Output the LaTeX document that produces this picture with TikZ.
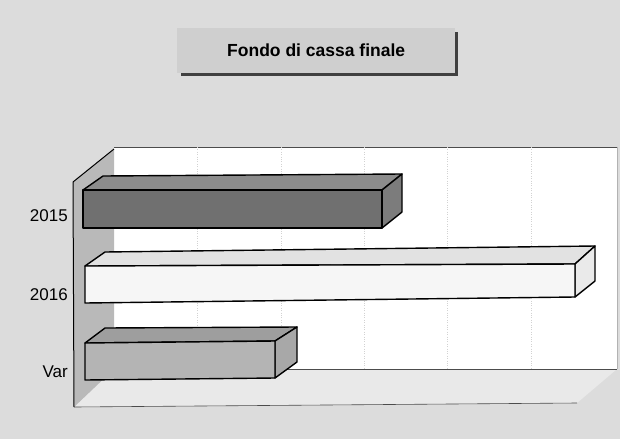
\documentclass[tikz,border=0pt]{standalone}
\usepackage{fontspec}
\setmainfont{Liberation Sans}
\definecolor{bgc}{HTML}{DCDCDC}
\definecolor{wallc}{HTML}{B9B9B9}
\definecolor{floorc}{HTML}{E9E9E9}
\definecolor{darkfront}{HTML}{707070}
\definecolor{darktop}{HTML}{8C8C8C}
\definecolor{darkside}{HTML}{7C7C7C}
\definecolor{whitefront}{HTML}{F6F6F6}
\definecolor{whitetop}{HTML}{E2E2E2}
\definecolor{whiteside}{HTML}{EAEAEA}
\definecolor{midfront}{HTML}{B4B4B4}
\definecolor{midtop}{HTML}{9E9E9E}
\definecolor{midside}{HTML}{A8A8A8}
\definecolor{titlec}{HTML}{CFCFCF}
\tikzset{
  barline/.style={draw=black, line width=1.4pt, line join=round},
  lbl/.style={anchor=east, font=\fontsize{17}{20}\selectfont, inner sep=0pt},
  grid/.style={draw=gray!35, dotted, line width=0.4pt}
}
\begin{document}
\begin{tikzpicture}[x=1pt,y=-1pt]
\useasboundingbox (0,0) rectangle (620,439);
\fill[bgc] (0,0) rectangle (620,439);
% title box with shadow
\fill[black!75] (181,32) rectangle (458,76);
\node[fill=titlec, minimum width=278pt, minimum height=45pt, anchor=north west, inner sep=0pt,
  font=\bfseries\fontsize{17.5}{20}\selectfont] (title) at (177,28) {Fondo di cassa finale};
% back wall
\fill[white] (114,147) rectangle (617,369);
\draw[black!70, line width=0.8pt] (114,147) -- (617,147);
\draw[black!30, line width=0.6pt] (617,147) -- (617,369);
% grid lines
\foreach \gx in {197,281,364,447,531}
  \draw[grid] (\gx,147) -- (\gx,369);
% floor
\fill[floorc] (114,369) -- (617,369) -- (577,403) -- (74,407) -- cycle;
\draw[black!70, line width=0.8pt] (114,369) -- (617,369);
\draw[black!70, line width=0.6pt] (74,407) -- (577,403);
% left wall
\fill[wallc] (73,182) -- (114,149) -- (114,369) -- (74,407) -- cycle;
\draw[black, line width=1pt] (114,149) -- (73,182) -- (74,407);
% bar 2015
\filldraw[barline, fill=darktop] (83,190) -- (103,176) -- (402,174) -- (382,190) -- cycle;
\filldraw[barline, fill=darkside] (382,190) -- (402,174) -- (402,212) -- (382,228) -- cycle;
\filldraw[barline, fill=darkfront] (83,190) rectangle (382,228);
% bar 2016
\filldraw[barline, fill=whitetop] (85,266) -- (105,252) -- (595,246) -- (575,264) -- cycle;
\filldraw[barline, fill=whiteside] (575,264) -- (595,246) -- (595,281) -- (575,297) -- cycle;
\filldraw[barline, fill=whitefront] (85,266) -- (575,264) -- (575,297) -- (85,303) -- cycle;
% bar Var
\filldraw[barline, fill=midtop] (85,343) -- (105,328) -- (297,327) -- (275,341) -- cycle;
\filldraw[barline, fill=midside] (275,341) -- (297,327) -- (297,362) -- (275,378) -- cycle;
\filldraw[barline, fill=midfront] (85,343) -- (275,341) -- (275,378) -- (85,380) -- cycle;
% labels
\node[lbl] (l2015) at (68,216) {2015};
\node[lbl] (l2016) at (68,295) {2016};
\node[lbl] (lvar) at (68,372) {Var};
\end{tikzpicture}
\end{document}
